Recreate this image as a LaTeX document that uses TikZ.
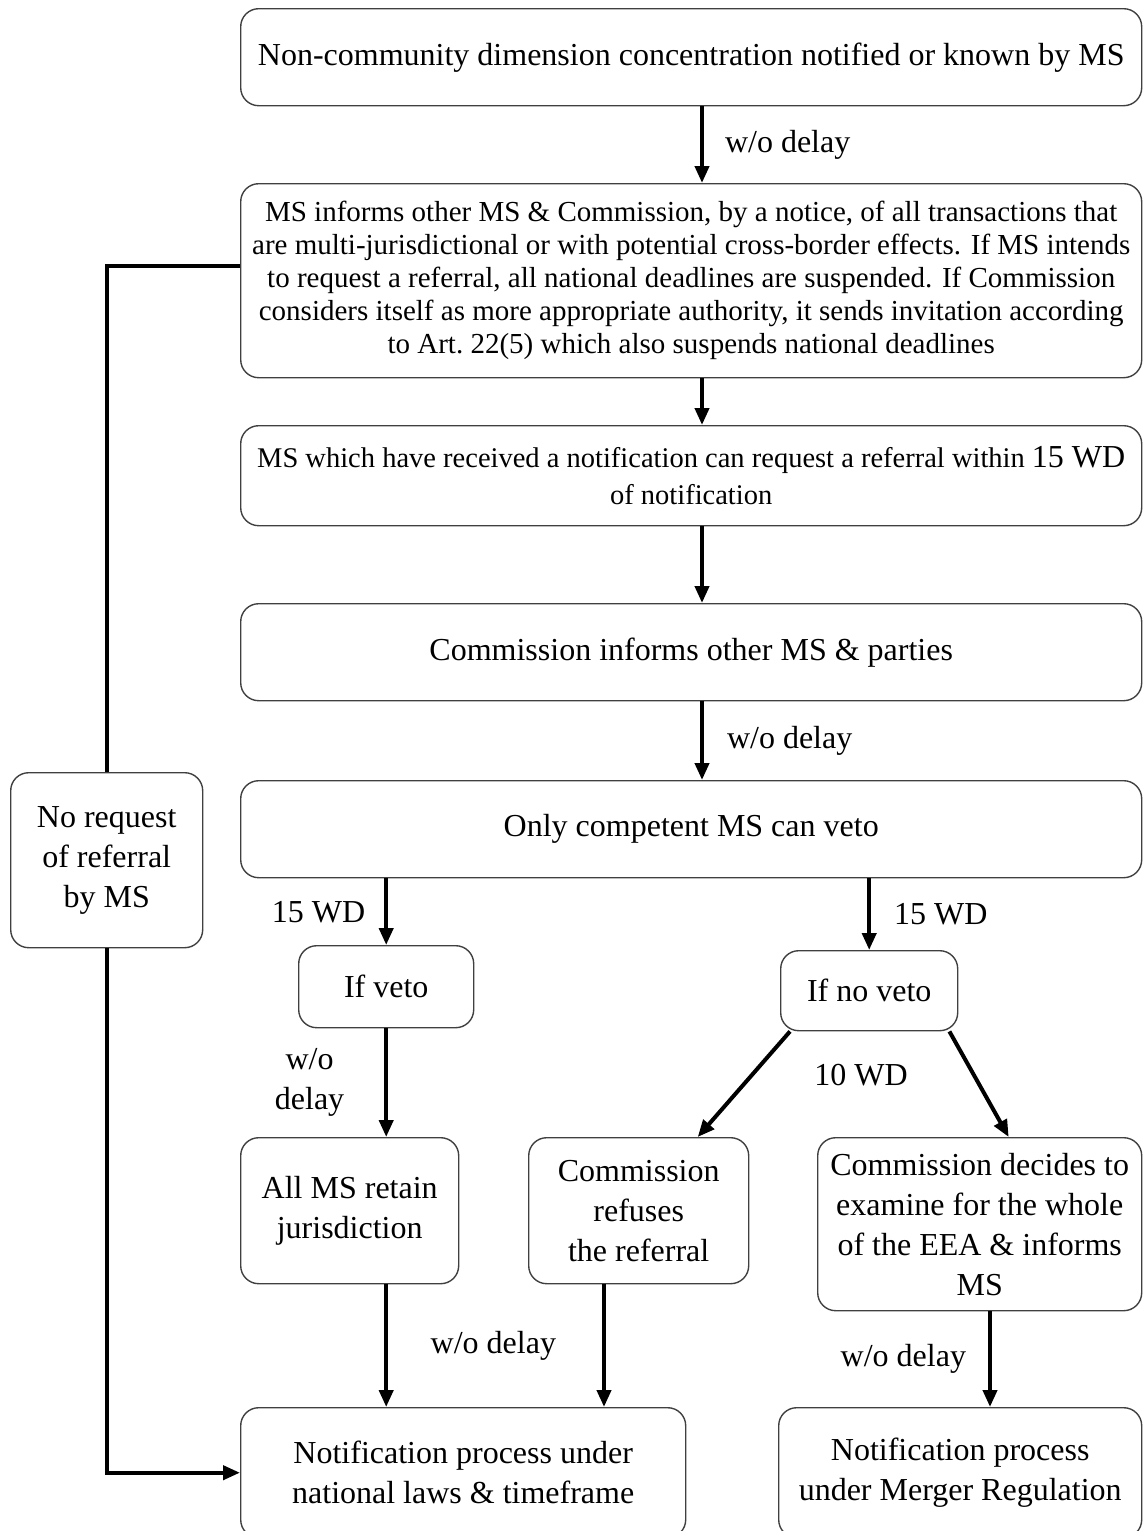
\documentclass[tikz,border=0pt]{standalone}
\usepackage{fontspec}
\setmainfont{Liberation Serif}
\usetikzlibrary{arrows.meta,calc}

\begin{document}
\begin{tikzpicture}[x = 1pt, y = -1pt,
        >= {Triangle[length = 17pt, width = 14pt]},
        box/.style = {draw = black!75, line width = 1.4pt, rounded corners = 18pt, anchor = north west, align = center, inner sep = 4pt, font = \fontsize{32}{40}\selectfont},
        wire/.style = {line width = 4pt},
        arr/.style = {wire, ->},
        lbl/.style = {inner sep = 2pt, align = center, font = \fontsize{32}{40}\selectfont}]
    \useasboundingbox (0,0) rectangle (1143,1531);
    \clip (0,0) rectangle (1143,1531);
    % columns of the straight connectors
    \coordinate (spine) at (702,0);
    \coordinate (refcol) at (604,0);
    \coordinate (mergecol) at (990,0);
    % main column
    \node[box, minimum width = 901pt, minimum height = 97pt] (known) at (240,8) {Non-community dimension concentration notified or known by MS};
    \node[box, minimum width = 901pt, minimum height = 194pt, font = \fontsize{29}{33}\selectfont] (inform) at (240,183) {MS informs other MS \& Commission,\ by a notice, of all transactions that\\ are multi-jurisdictional\ or with potential cross-border effects. If MS intends\\ to request a referral, all national deadlines are suspended. If Commission\\ considers itself as more appropriate authority, it sends invitation according\\ to Art.~22(5) which also suspends national deadlines};
    \node[box, minimum width = 901pt, minimum height = 100pt, font = \fontsize{28.5}{37}\selectfont] (request) at (240,425) {MS which have received a notification can request a referral within {\fontsize{32}{37}\selectfont 15 WD}\\ of notification};
    \node[box, minimum width = 901pt, minimum height = 97pt] (parties) at (240,603) {Commission informs other MS \& parties};
    \node[box, minimum width = 901pt, minimum height = 97pt] (veto) at (240,780) {Only competent MS can veto};
    \node[box, minimum width = 192pt, minimum height = 175pt] (norequest) at (10,772) {No request\\ of referral\\ by MS};
    % branches
    \node[box, minimum width = 175pt, minimum height = 82pt] (ifveto) at (298,945) {If veto};
    \node[box, minimum width = 177pt, minimum height = 80pt] (ifnoveto) at (780,950) {If no veto};
    \node[box, minimum width = 218pt, minimum height = 146pt] (retain) at (240,1137) {All MS retain\\ jurisdiction};
    \node[box, minimum width = 220pt, minimum height = 146pt] (refuses) at (528,1137) {Commission\\ refuses\\ the referral};
    \node[box, minimum width = 324pt, minimum height = 173pt] (decides) at (817,1137) {Commission decides to\\ examine for the whole\\ of the EEA \& informs\\ MS};
    \node[box, minimum width = 445pt, minimum height = 130pt] (notifnat) at (240,1407) {Notification process under\\ national laws \& timeframe};
    \node[box, minimum width = 363pt, minimum height = 130pt] (notifmerger) at (778,1407) {Notification process\\ under Merger Regulation};
    \node[lbl] (tenwd) at (861,1075) {10 WD};
    % connectors
    \draw[arr] (known.south -| spine) -- (inform.north -| spine) node[lbl, midway, right = 19pt] {w/o delay};
    \draw[arr] (inform.south -| spine) -- (request.north -| spine);
    \draw[arr] (request.south -| spine) -- (parties.north -| spine);
    \draw[arr] (parties.south -| spine) -- (veto.north -| spine) node[lbl, midway, right = 21pt] {w/o delay};
    \draw[arr] (veto.south -| ifveto.north) -- (ifveto.north) node[lbl, midway, left = 17pt] {15 WD};
    \draw[arr] (veto.south -| ifnoveto.north) -- (ifnoveto.north) node[lbl, midway, right = 21pt] {15 WD};
    \draw[arr] (ifveto.south) -- (retain.north -| ifveto.south) node[lbl, midway, left = 38pt] {w/o\\ delay};
    \draw[arr] ($(ifnoveto.south west)+(10,0)$) -- ($(refuses.north)+(59,0)$);
    \draw[arr] ($(ifnoveto.south east)+(-9,0)$) -- ($(decides.north)+(29,0)$);
    \draw[arr] (retain.south -| ifveto.south) -- (notifnat.north -| ifveto.south);
    \draw[arr] (refuses.south -| refcol) -- (notifnat.north -| refcol) node[lbl, midway, left = 44pt] {w/o delay};
    \draw[arr] (decides.south -| mergecol) -- (notifmerger.north -| mergecol) node[lbl, midway, left = 20pt] {w/o delay};
    % no referral loop
    \draw[wire] ($(inform.west)+(0,-15)$) -| (norequest.north);
    \draw[arr] (norequest.south) |- (notifnat.west);
\end{tikzpicture}
\end{document}
